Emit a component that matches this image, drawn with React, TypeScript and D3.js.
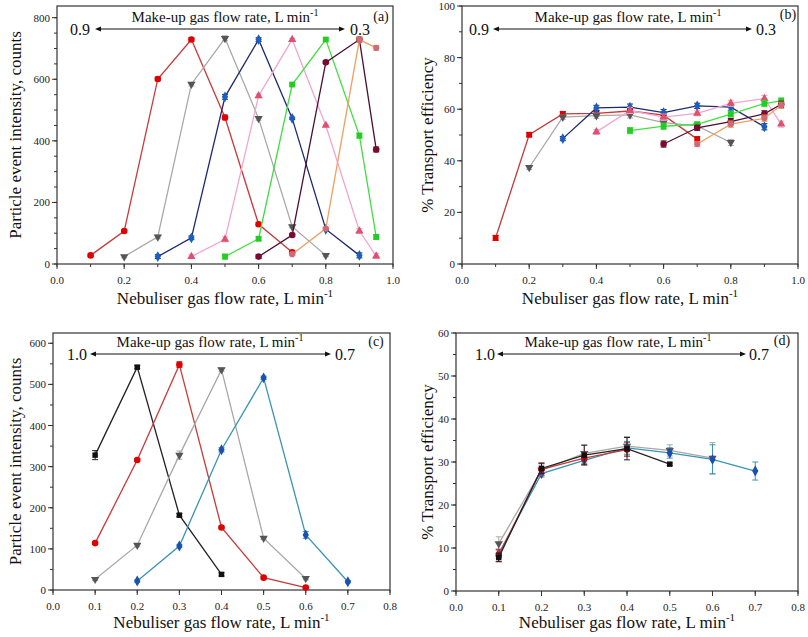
import React from "react";
import * as d3 from "d3";

const FONT = "'Liberation Serif', 'Times New Roman', serif";

// ---------- Panel (a) & (b): nebuliser gas flow categories ----------
const xsAB = [0.1, 0.2, 0.3, 0.4, 0.5, 0.6, 0.7, 0.8, 0.9, 0.95];
// Panel (a) particle event intensity, counts (make-up gas 0.9 -> 0.3)
const aMu09 = [28, 107, 601, 729, 476, 129, 38, null, null, null];
const aMu08 = [null, 24, 88, 584, 733, 473, 121, 28, null, null];
const aMu07 = [null, null, 24, 85, 543, 729, 473, 113, 28, null];
const aMu06 = [null, null, null, 24, 80, 546, 729, 450, 107, 26];
const aMu05 = [null, null, null, null, 24, 82, 583, 729, 417, 88];
const aMu04 = [null, null, null, null, null, 24, 94, 655, 729, 372];
const aMu03 = [null, null, null, null, null, null, 32, 115, 729, 702];
const aErr = [4, 4, 6, 6, 8, 6, 4, 4, 8, 8];
// Panel (b) % transport efficiency
const bMu09 = [10.1, 50.1, 58.2, 58.4, 59.3, 57.7, 48.4, null, null, null];
const bMu08 = [null, 37.4, 56.9, 57.5, 57.8, 54.8, 53.5, 47.1, null, null];
const bMu07 = [null, null, 48.6, 60.5, 60.8, 58.7, 61.3, 60.8, 53.2, null];
const bMu06 = [null, null, null, 51.2, 59.5, 56.9, 58.4, 62.3, 64.1, 54.2];
const bMu05 = [null, null, null, null, 51.7, 53.4, 54.1, 58.1, 62.2, 63.2];
const bMu04 = [null, null, null, null, null, 46.5, 52.8, 55.2, 58.2, 61.9];
const bMu03 = [null, null, null, null, null, null, 46.5, 54.2, 56.5, 61.5];
const bErr = [1, 0.8, 0.8, 1, 1.2, 1.2, 1, 1.2, 1.2, 1.2];

// ---------- Panel (c) & (d) ----------
const xsCD = [0.1, 0.2, 0.3, 0.4, 0.5, 0.6, 0.7];
const cMu10 = [328, 542, 182, 38, null, null, null];
const cMu09 = [114, 316, 548, 152, 30, 6, null];
const cMu08 = [26, 109, 328, 536, 126, 28, null];
const cMu07 = [null, 22, 107, 341, 516, 134, 20];
const cErr10 = [11, 4, 4, 4, 0, 0, 0];
const cErr09 = [3, 3, 7, 3, 3, 2, 0];
const cErr08 = [3, 4, 10, 4, 3, 3, 0];
const cErr07 = [0, 3, 4, 5, 4, 8, 3];
const dMu10 = [7.8, 28.5, 31.6, 33.1, 29.5, null, null];
const dMu09 = [8.3, 28.3, 30.9, 32.9, null, null, null];
const dMu08 = [11.0, 28.1, 32.0, 33.7, 32.7, 30.9, null];
const dMu07 = [8.7, 27.3, 30.4, 33.3, 32.1, 30.6, 27.9];
const dErr10 = [1.0, 1.2, 2.3, 2.6, 0.3, 0, 0];
const dErr09 = [1.4, 1.5, 1.5, 1.6, 0, 0, 0];
const dErr08 = [1.6, 1.2, 2.0, 2.2, 1.3, 3.6, 0];
const dErr07 = [1.0, 0.8, 0.8, 1.5, 1.2, 3.4, 2.1];

// tick labels
const xTicksAB = [0, 0.2, 0.4, 0.6, 0.8, 1.0];
const xTicksCD = [0, 0.1, 0.2, 0.3, 0.4, 0.5, 0.6, 0.7, 0.8];
const yTicksA = [0, 200, 400, 600, 800];
const yTicksB = [0, 20, 40, 60, 80, 100];
const yTicksC = [0, 100, 200, 300, 400, 500, 600];
const yTicksD = [0, 10, 20, 30, 40, 50, 60];

type Style = { line: string; marker: string; sym: d3.SymbolType; size: number };

const ST = {
  red: { line: "#c83a3a", marker: "#e00000", sym: d3.symbolCircle, size: 34 },
  redSq: { line: "#c83a3a", marker: "#e00000", sym: d3.symbolSquare, size: 34 },
  gray: { line: "#a8a8a8", marker: "#555555", sym: d3.symbolTriangle, size: 30 },
  navy: { line: "#1c2a6e", marker: "#1a5fc0", sym: d3.symbolDiamond, size: 34 },
  pink: { line: "#f2a4d0", marker: "#e0506e", sym: d3.symbolTriangle, size: 30 },
  green: { line: "#3ee03e", marker: "#22cc22", sym: d3.symbolSquare, size: 34 },
  maroon: { line: "#4a1030", marker: "#7a0a30", sym: d3.symbolCircle, size: 34 },
  orange: { line: "#f0a060", marker: "#d06a78", sym: d3.symbolCircle, size: 30 },
  black: { line: "#222222", marker: "#111111", sym: d3.symbolSquare, size: 30 },
  teal: { line: "#3a94b4", marker: "#1a50b0", sym: d3.symbolDiamond, size: 34 },
};

type Series = { xs: number[]; ys: (number | null)[]; err: number[]; st: Style; down?: boolean };

type PanelProps = {
  x0: number; x1: number; yB: number; yT: number;
  xDom: [number, number]; yDom: [number, number];
  xTicks: number[]; xMinor: number; xFmt: (v: number) => string;
  yTicks: number[]; yMinor: number;
  series: Series[];
  yLabel: string; yLabelX: number;
  xLabelY: number;
  annCx: number; annY: number; leftTxt: string; rightTxt: string;
  arrowL: number; arrowR: number; arrowY: number; leftTxtX: number; rightTxtX: number;
  tag: string; tagX: number; tagY: number;
};

function Panel(p: PanelProps) {
  const x = d3.scaleLinear().domain(p.xDom).range([p.x0, p.x1]);
  const y = d3.scaleLinear().domain(p.yDom).range([p.yB, p.yT]);
  const axisColor = "#333";
  const minorX: number[] = d3.range(p.xDom[0], p.xDom[1] + 1e-9, p.xMinor);
  const minorY: number[] = d3.range(p.yDom[0], p.yDom[1] + 1e-9, p.yMinor);
  const line = d3
    .line<{ x: number; y: number }>()
    .x((d) => x(d.x))
    .y((d) => y(d.y));
  return (
    <g>
      <rect x={p.x0} y={p.yT} width={p.x1 - p.x0} height={p.yB - p.yT} fill="none" stroke={axisColor} strokeWidth={1.2} />
      {minorX.map((v, i) => (
        <line key={"mx" + i} x1={x(v)} x2={x(v)} y1={p.yB} y2={p.yB + 3} stroke={axisColor} />
      ))}
      {p.xTicks.map((v, i) => (
        <g key={"tx" + i}>
          <line x1={x(v)} x2={x(v)} y1={p.yB} y2={p.yB + 5} stroke={axisColor} />
          <text x={x(v)} y={p.yB + 20} textAnchor="middle" fontSize={11} fontFamily={FONT} fill="#222">
            {p.xFmt(v)}
          </text>
        </g>
      ))}
      {minorY.map((v, i) => (
        <line key={"my" + i} x1={p.x0 - 3} x2={p.x0} y1={y(v)} y2={y(v)} stroke={axisColor} />
      ))}
      {p.yTicks.map((v, i) => (
        <g key={"ty" + i}>
          <line x1={p.x0 - 5} x2={p.x0} y1={y(v)} y2={y(v)} stroke={axisColor} />
          <text x={p.x0 - 7} y={y(v) + 4} textAnchor="end" fontSize={11} fontFamily={FONT} fill="#222">
            {v}
          </text>
        </g>
      ))}
      {p.series.map((s, si) => {
        const pts = s.xs
          .map((xv, i) => ({ x: xv, y: s.ys[i] as number, e: s.err[i] || 0, ok: s.ys[i] != null }))
          .filter((d) => d.ok);
        return (
          <g key={"s" + si}>
            <path d={line(pts) || ""} fill="none" stroke={s.st.line} strokeWidth={1.3} />
            {pts.map((d, i) =>
              d.e > 0 ? (
                <g key={"e" + i} stroke={s.st.line} strokeWidth={1}>
                  <line x1={x(d.x)} x2={x(d.x)} y1={y(d.y - d.e)} y2={y(d.y + d.e)} />
                  <line x1={x(d.x) - 3} x2={x(d.x) + 3} y1={y(d.y - d.e)} y2={y(d.y - d.e)} />
                  <line x1={x(d.x) - 3} x2={x(d.x) + 3} y1={y(d.y + d.e)} y2={y(d.y + d.e)} />
                </g>
              ) : null
            )}
            {pts.map((d, i) => (
              <path
                key={"m" + i}
                d={d3.symbol().type(s.st.sym).size(s.st.size)() || ""}
                transform={`translate(${x(d.x)},${y(d.y)})${s.down ? " rotate(180)" : ""}`}
                fill={s.st.marker}
              />
            ))}
          </g>
        );
      })}
      <text x={p.annCx} y={p.annY} textAnchor="middle" fontSize={15} fontFamily={FONT} fill="#111">
        Make-up gas flow rate, L min<tspan dy={-6} fontSize={10}>-1</tspan>
      </text>
      <text x={p.leftTxtX} y={p.arrowY + 6} textAnchor="middle" fontSize={16} fontFamily={FONT} fill="#111">
        {p.leftTxt}
      </text>
      <text x={p.rightTxtX} y={p.arrowY + 6} textAnchor="middle" fontSize={16} fontFamily={FONT} fill="#111">
        {p.rightTxt}
      </text>
      <line x1={p.arrowL + 5} x2={p.arrowR - 5} y1={p.arrowY} y2={p.arrowY} stroke="#111" strokeWidth={1} />
      <path d={`M${p.arrowL},${p.arrowY} l6,-2.5 l0,5 z`} fill="#111" />
      <path d={`M${p.arrowR},${p.arrowY} l-6,-2.5 l0,5 z`} fill="#111" />
      <text x={p.tagX} y={p.tagY} textAnchor="middle" fontSize={14} fontFamily={FONT} fill="#111">
        {p.tag}
      </text>
      <text
        transform={`translate(${p.yLabelX},${(p.yB + p.yT) / 2}) rotate(-90)`}
        textAnchor="middle"
        fontSize={17}
        fontFamily={FONT}
        fill="#111"
      >
        {p.yLabel}
      </text>
      <text x={(p.x0 + p.x1) / 2} y={p.xLabelY} textAnchor="middle" fontSize={17} fontFamily={FONT} fill="#111">
        Nebuliser gas flow rate, L min<tspan dy={-7} fontSize={11}>-1</tspan>
      </text>
    </g>
  );
}

const fmt1 = (v: number) => v.toFixed(1);

export default function App() {
  const seriesA: Series[] = [
    { xs: xsAB, ys: aMu09, err: aErr, st: ST.red },
    { xs: xsAB, ys: aMu08, err: aErr, st: ST.gray, down: true },
    { xs: xsAB, ys: aMu07, err: aErr, st: ST.navy },
    { xs: xsAB, ys: aMu06, err: aErr, st: ST.pink },
    { xs: xsAB, ys: aMu05, err: aErr, st: ST.green },
    { xs: xsAB, ys: aMu04, err: aErr, st: ST.maroon },
    { xs: xsAB, ys: aMu03, err: aErr, st: ST.orange },
  ];
  const seriesB: Series[] = [
    { xs: xsAB, ys: bMu09, err: bErr, st: ST.redSq },
    { xs: xsAB, ys: bMu08, err: bErr, st: ST.gray, down: true },
    { xs: xsAB, ys: bMu07, err: bErr, st: ST.navy },
    { xs: xsAB, ys: bMu06, err: bErr, st: ST.pink },
    { xs: xsAB, ys: bMu05, err: bErr, st: ST.green },
    { xs: xsAB, ys: bMu04, err: bErr, st: ST.maroon },
    { xs: xsAB, ys: bMu03, err: bErr, st: ST.orange },
  ];
  const seriesC: Series[] = [
    { xs: xsCD, ys: cMu10, err: cErr10, st: ST.black },
    { xs: xsCD, ys: cMu09, err: cErr09, st: ST.red },
    { xs: xsCD, ys: cMu08, err: cErr08, st: ST.gray, down: true },
    { xs: xsCD, ys: cMu07, err: cErr07, st: ST.teal },
  ];
  const seriesD: Series[] = [
    { xs: xsCD, ys: dMu08, err: dErr08, st: ST.gray, down: true },
    { xs: xsCD, ys: dMu07, err: dErr07, st: ST.teal },
    { xs: xsCD, ys: dMu09, err: dErr09, st: ST.red },
    { xs: xsCD, ys: dMu10, err: dErr10, st: ST.black },
  ];
  return (
    <svg width={808} height={637} style={{ position: "absolute", left: 0, top: 0, background: "#fff" }}>
      <Panel
        x0={57} x1={393} yB={264} yT={6} xDom={[0, 1]} yDom={[0, 838]}
        xTicks={xTicksAB} xMinor={0.1} xFmt={fmt1} yTicks={yTicksA} yMinor={50}
        series={seriesA} yLabel="Particle event intensity, counts" yLabelX={21} xLabelY={304}
        annCx={225} annY={22} leftTxt="0.9" rightTxt="0.3" arrowL={95} arrowR={345} arrowY={29}
        leftTxtX={80} rightTxtX={360} tag="(a)" tagX={381} tagY={21}
      />
      <Panel
        x0={462} x1={798} yB={264} yT={6} xDom={[0, 1]} yDom={[0, 100]}
        xTicks={xTicksAB} xMinor={0.1} xFmt={fmt1} yTicks={yTicksB} yMinor={10}
        series={seriesB} yLabel="% Transport efficiency" yLabelX={433} xLabelY={304}
        annCx={628} annY={22} leftTxt="0.9" rightTxt="0.3" arrowL={493} arrowR={752} arrowY={29}
        leftTxtX={479} rightTxtX={766} tag="(b)" tagX={788} tagY={19}
      />
      <Panel
        x0={53} x1={390} yB={590} yT={333} xDom={[0, 0.8]} yDom={[0, 625]}
        xTicks={xTicksCD} xMinor={0.1} xFmt={fmt1} yTicks={yTicksC} yMinor={50}
        series={seriesC} yLabel="Particle event intensity, counts" yLabelX={21} xLabelY={628}
        annCx={210} annY={347} leftTxt="1.0" rightTxt="0.7" arrowL={90} arrowR={331} arrowY={354}
        leftTxtX={77} rightTxtX={345} tag="(c)" tagX={376} tagY={346}
      />
      <Panel
        x0={456} x1={798} yB={591} yT={333} xDom={[0, 0.8]} yDom={[0, 60]}
        xTicks={xTicksCD} xMinor={0.1} xFmt={fmt1} yTicks={yTicksD} yMinor={5}
        series={seriesD} yLabel="% Transport efficiency" yLabelX={433} xLabelY={628}
        annCx={618} annY={347} leftTxt="1.0" rightTxt="0.7" arrowL={497} arrowR={746} arrowY={354}
        leftTxtX={485} rightTxtX={759} tag="(d)" tagX={782} tagY={345}
      />
    </svg>
  );
}
